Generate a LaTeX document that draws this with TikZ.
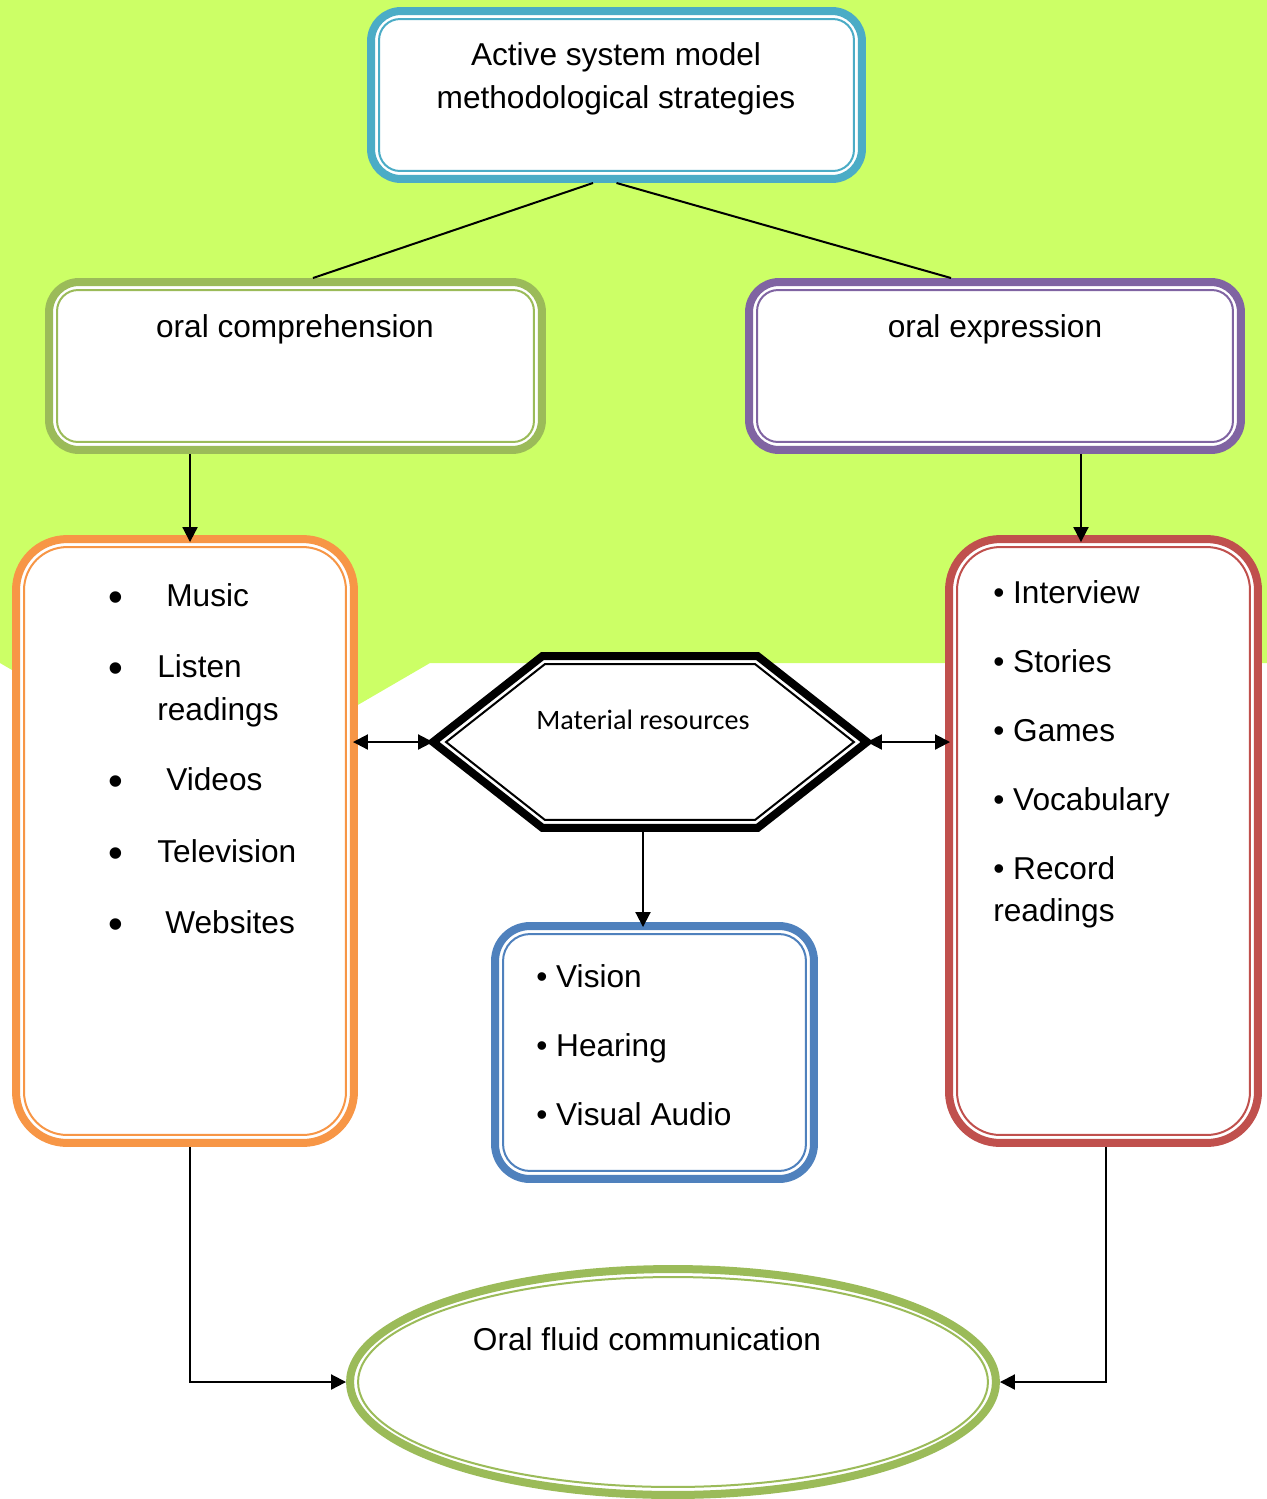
\documentclass[tikz,border=0pt]{standalone}
\usepackage{fontspec}
\setmainfont{Liberation Sans}
\newfontfamily\calibrifont{Carlito}
\usetikzlibrary{arrows.meta, positioning, shapes.geometric}
\definecolor{bggreen}{HTML}{CCFF66}
\definecolor{modelblue}{HTML}{4BACC6}
\definecolor{compgreen}{HTML}{9BBB59}
\definecolor{exprpurple}{HTML}{8064A2}
\definecolor{listorange}{HTML}{F79646}
\definecolor{speakred}{HTML}{C0504D}
\definecolor{senseblue}{HTML}{4F81BD}

\begin{document}
\begin{tikzpicture}[
    x=0.02cm, y=-0.02cm,
    >={Triangle[length=0.3cm, width=0.3cm]},
    panel/.style={draw=#1, line width=0.16cm, fill=white},
    innerline/.style={draw=#1, line width=0.04cm},
    conn/.style={line width=0.04cm},
    txt/.style={font=\fontsize{18}{24.4}\selectfont, inner sep=0pt},
    entry/.style={txt, anchor=base west},
    bul/.style={font=\fontsize{24}{24}\selectfont, inner sep=0pt, anchor=base},
]
\useasboundingbox (0,0) rectangle (1267,1499);

% Background
\fill[bggreen] (0,0) -- (1267,0) -- (1267,663) -- (430,663) -- (215,788) -- (0,663) -- cycle;

% Top box
\node[panel=modelblue, rounded corners=0.6cm, minimum width=9.82cm, minimum height=3.36cm] (model) at (616.5,95) {};
\draw[innerline=modelblue, rounded corners=0.42cm] ([shift={(0.24cm,-0.24cm)}]model.north west) rectangle ([shift={(-0.24cm,0.24cm)}]model.south east);
\node[txt, align=center] (modeltxt) at (616,79) {Active system model\\methodological strategies};

% Second row
\node[panel=compgreen, rounded corners=0.6cm, minimum width=9.86cm, minimum height=3.36cm] (comp) at (295.5,366) {};
\draw[innerline=compgreen, rounded corners=0.42cm] ([shift={(0.24cm,-0.24cm)}]comp.north west) rectangle ([shift={(-0.24cm,0.24cm)}]comp.south east);
\node[txt, anchor=base] (comptxt) at (295,337) {oral comprehension};

\node[panel=exprpurple, rounded corners=0.6cm, minimum width=9.84cm, minimum height=3.36cm] (expr) at (995,366) {};
\draw[innerline=exprpurple, rounded corners=0.42cm] ([shift={(0.24cm,-0.24cm)}]expr.north west) rectangle ([shift={(-0.24cm,0.24cm)}]expr.south east);
\node[txt, anchor=base] (exprtxt) at (995,337) {oral expression};

% Listening box
\node[panel=listorange, rounded corners=1.02cm, minimum width=6.76cm, minimum height=12.08cm] (listen) at (185,841) {};
\draw[innerline=listorange, rounded corners=0.86cm] ([shift={(0.24cm,-0.24cm)}]listen.north west) rectangle ([shift={(-0.24cm,0.24cm)}]listen.south east);
\node[bul] at (116,611) {•};
\node[entry] (music) at (166,606) {Music};
\node[bul] at (116,682) {•};
\node[entry] (listenr) at (157,677) {Listen};
\node[entry] (readingsl) at (157,720) {readings};
\node[bul] at (116,795) {•};
\node[entry] (videos) at (166,790) {Videos};
\node[bul] at (116,867) {•};
\node[entry] (tv) at (157,862) {Television};
\node[bul] at (116,938) {•};
\node[entry] (web) at (165,933) {Websites};

% Speaking box
\node[panel=speakred, rounded corners=1.02cm, minimum width=6.18cm, minimum height=12.08cm] (speak) at (1103.5,841) {};
\draw[innerline=speakred, rounded corners=0.86cm] ([shift={(0.24cm,-0.24cm)}]speak.north west) rectangle ([shift={(-0.24cm,0.24cm)}]speak.south east);
\node[entry] (interview) at (993,603) {• Interview};
\node[entry] (stories) at (993,672) {• Stories};
\node[entry] (games) at (993,741) {• Games};
\node[entry] (vocab) at (993,810) {• Vocabulary};
\node[entry] (record) at (993,879) {• Record};
\node[entry] (readingsr) at (993,921) {readings};

% Material resources
\node[minimum width=8.68cm, minimum height=3.44cm, inner sep=0pt, outer sep=0pt] (res) at (650,742) {};
\draw[line width=0.16cm, fill=white] (res.west) -- ([xshift=2.19cm]res.north west) -- ([xshift=-2.19cm]res.north east) -- (res.east) -- ([xshift=-2.19cm]res.south east) -- ([xshift=2.19cm]res.south west) -- cycle;
\draw[line width=0.04cm] ([xshift=0.26cm]res.west) -- ([shift={(2.24cm,-0.16cm)}]res.north west) -- ([shift={(-2.24cm,-0.16cm)}]res.north east) -- ([xshift=-0.26cm]res.east) -- ([shift={(-2.24cm,0.16cm)}]res.south east) -- ([shift={(2.24cm,0.16cm)}]res.south west) -- cycle;
\node[font=\calibrifont\fontsize{16}{19}\selectfont, inner sep=0pt, anchor=base] (restxt) at (643,729) {Material resources};

% Senses box
\node[panel=senseblue, rounded corners=0.7cm, minimum width=6.38cm, minimum height=5.06cm] (senses) at (654.5,1052.5) {};
\draw[innerline=senseblue, rounded corners=0.54cm] ([shift={(0.24cm,-0.24cm)}]senses.north west) rectangle ([shift={(-0.24cm,0.24cm)}]senses.south east);
\node[entry] (vision) at (536,987) {• Vision};
\node[entry] (hearing) at (536,1056) {• Hearing};
\node[entry] (visual) at (536,1125) {• Visual Audio};

% Result
\node[ellipse, panel=compgreen, minimum width=12.92cm, minimum height=4.52cm] (fluid) at (673,1382) {};
\draw[innerline=compgreen] (fluid.center) ellipse [x radius=6.3cm, y radius=2.1cm];
\node[txt, anchor=base] (fluidtxt) at (647,1350) {Oral fluid communication};

% Connectors
\draw[conn] ([xshift=-0.47cm]model.south) -- ([xshift=0.35cm]comp.north);
\draw[conn] (model.south) -- ([xshift=-0.88cm]expr.north);
\draw[conn, ->] ([xshift=-2.11cm]comp.south) -- ([xshift=-2.11cm,yshift=-0.14cm]comp.south |- listen.north);
\draw[conn, ->] ([xshift=1.72cm]expr.south) -- ([xshift=1.72cm,yshift=-0.14cm]expr.south |- speak.north);
\draw[conn, <->] ([xshift=-0.1cm]listen.east |- res.west) -- (res.west);
\draw[conn, <->] (res.east) -- ([xshift=0.1cm]res.east -| speak.west);
\draw[conn, ->] ([xshift=-0.14cm]res.south) -- ([xshift=-0.14cm,yshift=-0.1cm]res.south |- senses.north);
\draw[conn, ->] ([xshift=0.1cm]listen.south) |- (fluid.west);
\draw[conn, ->] ([xshift=0.05cm]speak.south) |- (fluid.east);

\end{tikzpicture}
\end{document}
